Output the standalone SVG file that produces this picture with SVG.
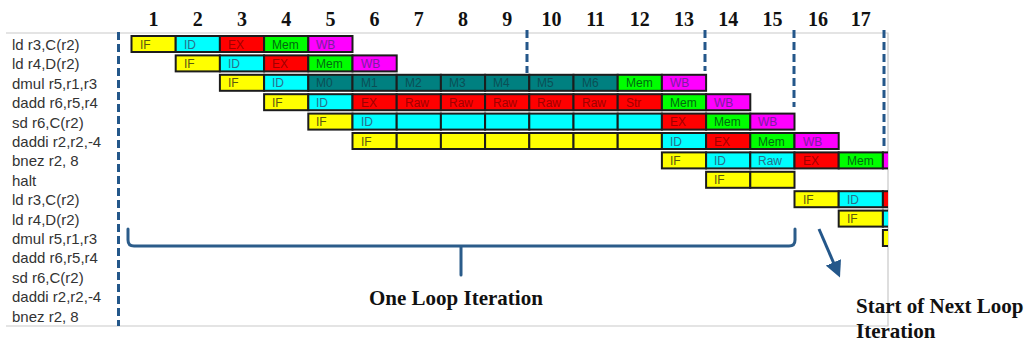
<svg xmlns="http://www.w3.org/2000/svg" width="1032" height="345" viewBox="0 0 1032 345">
  <style>
    .lbl { font-family: "Liberation Sans", Arial, sans-serif; font-size: 15px; fill: #333; }
    .num { font-family: "Liberation Serif", "Times New Roman", serif; font-size: 20px; font-weight: bold; fill: #111; text-anchor: middle; }
    .cap { font-family: "Liberation Serif", "Times New Roman", serif; font-size: 21px; font-weight: bold; fill: #111; }
    .bar { stroke: #1c1c1c; stroke-width: 2; }
    .bt { font-family: "Liberation Sans", Arial, sans-serif; font-size: 12px; }
    .IF { fill: #ffff00; } .tIF { fill: #5a5a10; }
    .ID { fill: #00ffff; } .tID { fill: #2a6f8a; }
    .EX { fill: #ff0000; } .tEX { fill: #a00000; }
    .ME { fill: #00ff00; } .tME { fill: #006a10; }
    .WB { fill: #ff00ff; } .tWB { fill: #7a1fa0; }
    .ML { fill: #008080; } .tML { fill: #0b4f55; }
    .dash { fill: none; stroke: #24578a; stroke-width: 3; stroke-dasharray: 8 4; }
    .frame { fill: none; stroke: #c9c9c9; stroke-width: 1.2; }
    .brace { fill: none; stroke: #2b5c8a; stroke-width: 3; stroke-linecap: round; stroke-linejoin: round; }
  </style>
  <defs>
    <clipPath id="grid-clip"><rect x="0" y="0" width="888" height="345"/></clipPath>
    <marker id="arrowhead" viewBox="0 0 10 10" refX="7" refY="5" markerWidth="5.5" markerHeight="5.5" orient="auto">
      <path d="M0,0 L10,5 L0,10 z" fill="#24578a"/>
    </marker>
  </defs>

  <rect width="1032" height="345" fill="#ffffff"/>

  <!-- frame of the timing table -->
  <path class="frame" d="M6,33 H888 V326 H6"/>

  <!-- clock cycle numbers -->
  <g id="cycles">
    <text class="num" x="153.6" y="26">1</text>
    <text class="num" x="197.8" y="26">2</text>
    <text class="num" x="242" y="26">3</text>
    <text class="num" x="286.2" y="26">4</text>
    <text class="num" x="330.4" y="26">5</text>
    <text class="num" x="374.6" y="26">6</text>
    <text class="num" x="418.8" y="26">7</text>
    <text class="num" x="463" y="26">8</text>
    <text class="num" x="507.2" y="26">9</text>
    <text class="num" x="551.4" y="26">10</text>
    <text class="num" x="595.6" y="26">11</text>
    <text class="num" x="639.8" y="26">12</text>
    <text class="num" x="684" y="26">13</text>
    <text class="num" x="728.2" y="26">14</text>
    <text class="num" x="772.4" y="26">15</text>
    <text class="num" x="818" y="26">16</text>
    <text class="num" x="860.8" y="26">17</text>
  </g>

  <!-- instruction labels -->
  <g id="instructions">
    <text class="lbl" x="12" y="50">ld r3,C(r2)</text>
    <text class="lbl" x="12" y="69.4">ld r4,D(r2)</text>
    <text class="lbl" x="12" y="88.8">dmul r5,r1,r3</text>
    <text class="lbl" x="12" y="108.2">dadd r6,r5,r4</text>
    <text class="lbl" x="12" y="127.6">sd r6,C(r2)</text>
    <text class="lbl" x="12" y="147">daddi r2,r2,-4</text>
    <text class="lbl" x="12" y="166.4">bnez r2, 8</text>
    <text class="lbl" x="12" y="185.8">halt</text>
    <text class="lbl" x="12" y="205.2">ld r3,C(r2)</text>
    <text class="lbl" x="12" y="224.6">ld r4,D(r2)</text>
    <text class="lbl" x="12" y="244">dmul r5,r1,r3</text>
    <text class="lbl" x="12" y="263.4">dadd r6,r5,r4</text>
    <text class="lbl" x="12" y="282.8">sd r6,C(r2)</text>
    <text class="lbl" x="12" y="302.2">daddi r2,r2,-4</text>
    <text class="lbl" x="12" y="321.6">bnez r2, 8</text>
  </g>

  <!-- pipeline stage bars -->
  <g id="pipeline" clip-path="url(#grid-clip)">
    <g id="row-ld-r3">
      <rect class="bar IF" x="131.5" y="36" width="44.2" height="16"/><text class="bt tIF" x="140" y="48.5">IF</text>
      <rect class="bar ID" x="175.7" y="36" width="44.2" height="16"/><text class="bt tID" x="184" y="48.5">ID</text>
      <rect class="bar EX" x="219.9" y="36" width="44.2" height="16"/><text class="bt tEX" x="228" y="48.5">EX</text>
      <rect class="bar ME" x="264.1" y="36" width="44.2" height="16"/><text class="bt tME" x="272" y="48.5">Mem</text>
      <rect class="bar WB" x="308.3" y="36" width="44.2" height="16"/><text class="bt tWB" x="316" y="48.5">WB</text>
    </g>
    <g id="row-ld-r4">
      <rect class="bar IF" x="175.7" y="55.4" width="44.2" height="16"/><text class="bt tIF" x="184" y="67.9">IF</text>
      <rect class="bar ID" x="219.9" y="55.4" width="44.2" height="16"/><text class="bt tID" x="228" y="67.9">ID</text>
      <rect class="bar EX" x="264.1" y="55.4" width="44.2" height="16"/><text class="bt tEX" x="272" y="67.9">EX</text>
      <rect class="bar ME" x="308.3" y="55.4" width="44.2" height="16"/><text class="bt tME" x="316" y="67.9">Mem</text>
      <rect class="bar WB" x="352.5" y="55.4" width="44.2" height="16"/><text class="bt tWB" x="361" y="67.9">WB</text>
    </g>
    <g id="row-dmul">
      <rect class="bar IF" x="219.9" y="74.8" width="44.2" height="16"/><text class="bt tIF" x="228" y="87.3">IF</text>
      <rect class="bar ID" x="264.1" y="74.8" width="44.2" height="16"/><text class="bt tID" x="272" y="87.3">ID</text>
      <rect class="bar ML" x="308.3" y="74.8" width="44.2" height="16"/><text class="bt tML" x="316" y="87.3">M0</text>
      <rect class="bar ML" x="352.5" y="74.8" width="44.2" height="16"/><text class="bt tML" x="361" y="87.3">M1</text>
      <rect class="bar ML" x="396.7" y="74.8" width="44.2" height="16"/><text class="bt tML" x="405" y="87.3">M2</text>
      <rect class="bar ML" x="440.9" y="74.8" width="44.2" height="16"/><text class="bt tML" x="449" y="87.3">M3</text>
      <rect class="bar ML" x="485.1" y="74.8" width="44.2" height="16"/><text class="bt tML" x="493" y="87.3">M4</text>
      <rect class="bar ML" x="529.3" y="74.8" width="44.2" height="16"/><text class="bt tML" x="537" y="87.3">M5</text>
      <rect class="bar ML" x="573.5" y="74.8" width="44.2" height="16"/><text class="bt tML" x="582" y="87.3">M6</text>
      <rect class="bar ME" x="617.7" y="74.8" width="44.2" height="16"/><text class="bt tME" x="626" y="87.3">Mem</text>
      <rect class="bar WB" x="661.9" y="74.8" width="44.2" height="16"/><text class="bt tWB" x="670" y="87.3">WB</text>
    </g>
    <g id="row-dadd">
      <rect class="bar IF" x="264.1" y="94.2" width="44.2" height="16"/><text class="bt tIF" x="272" y="106.7">IF</text>
      <rect class="bar ID" x="308.3" y="94.2" width="44.2" height="16"/><text class="bt tID" x="316" y="106.7">ID</text>
      <rect class="bar EX" x="352.5" y="94.2" width="44.2" height="16"/><text class="bt tEX" x="361" y="106.7">EX</text>
      <rect class="bar EX" x="396.7" y="94.2" width="44.2" height="16"/><text class="bt tEX" x="405" y="106.7">Raw</text>
      <rect class="bar EX" x="440.9" y="94.2" width="44.2" height="16"/><text class="bt tEX" x="449" y="106.7">Raw</text>
      <rect class="bar EX" x="485.1" y="94.2" width="44.2" height="16"/><text class="bt tEX" x="493" y="106.7">Raw</text>
      <rect class="bar EX" x="529.3" y="94.2" width="44.2" height="16"/><text class="bt tEX" x="537" y="106.7">Raw</text>
      <rect class="bar EX" x="573.5" y="94.2" width="44.2" height="16"/><text class="bt tEX" x="582" y="106.7">Raw</text>
      <rect class="bar EX" x="617.7" y="94.2" width="44.2" height="16"/><text class="bt tEX" x="626" y="106.7">Str</text>
      <rect class="bar ME" x="661.9" y="94.2" width="44.2" height="16"/><text class="bt tME" x="670" y="106.7">Mem</text>
      <rect class="bar WB" x="706.1" y="94.2" width="44.2" height="16"/><text class="bt tWB" x="714" y="106.7">WB</text>
    </g>
    <g id="row-sd">
      <rect class="bar IF" x="308.3" y="113.6" width="44.2" height="16"/><text class="bt tIF" x="316" y="126.1">IF</text>
      <rect class="bar ID" x="352.5" y="113.6" width="44.2" height="16"/><text class="bt tID" x="361" y="126.1">ID</text>
      <rect class="bar ID" x="396.7" y="113.6" width="44.2" height="16"/>
      <rect class="bar ID" x="440.9" y="113.6" width="44.2" height="16"/>
      <rect class="bar ID" x="485.1" y="113.6" width="44.2" height="16"/>
      <rect class="bar ID" x="529.3" y="113.6" width="44.2" height="16"/>
      <rect class="bar ID" x="573.5" y="113.6" width="44.2" height="16"/>
      <rect class="bar ID" x="617.7" y="113.6" width="44.2" height="16"/>
      <rect class="bar EX" x="661.9" y="113.6" width="44.2" height="16"/><text class="bt tEX" x="670" y="126.1">EX</text>
      <rect class="bar ME" x="706.1" y="113.6" width="44.2" height="16"/><text class="bt tME" x="714" y="126.1">Mem</text>
      <rect class="bar WB" x="750.3" y="113.6" width="44.2" height="16"/><text class="bt tWB" x="758" y="126.1">WB</text>
    </g>
    <g id="row-daddi">
      <rect class="bar IF" x="352.5" y="133" width="44.2" height="16"/><text class="bt tIF" x="361" y="145.5">IF</text>
      <rect class="bar IF" x="396.7" y="133" width="44.2" height="16"/>
      <rect class="bar IF" x="440.9" y="133" width="44.2" height="16"/>
      <rect class="bar IF" x="485.1" y="133" width="44.2" height="16"/>
      <rect class="bar IF" x="529.3" y="133" width="44.2" height="16"/>
      <rect class="bar IF" x="573.5" y="133" width="44.2" height="16"/>
      <rect class="bar IF" x="617.7" y="133" width="44.2" height="16"/>
      <rect class="bar ID" x="661.9" y="133" width="44.2" height="16"/><text class="bt tID" x="670" y="145.5">ID</text>
      <rect class="bar EX" x="706.1" y="133" width="44.2" height="16"/><text class="bt tEX" x="714" y="145.5">EX</text>
      <rect class="bar ME" x="750.3" y="133" width="44.2" height="16"/><text class="bt tME" x="758" y="145.5">Mem</text>
      <rect class="bar WB" x="794.5" y="133" width="44.2" height="16"/><text class="bt tWB" x="803" y="145.5">WB</text>
    </g>
    <g id="row-bnez">
      <rect class="bar IF" x="661.9" y="152.4" width="44.2" height="16"/><text class="bt tIF" x="670" y="164.9">IF</text>
      <rect class="bar ID" x="706.1" y="152.4" width="44.2" height="16"/><text class="bt tID" x="714" y="164.9">ID</text>
      <rect class="bar ID" x="750.3" y="152.4" width="44.2" height="16"/><text class="bt tID" x="758" y="164.9">Raw</text>
      <rect class="bar EX" x="794.5" y="152.4" width="44.2" height="16"/><text class="bt tEX" x="803" y="164.9">EX</text>
      <rect class="bar ME" x="838.7" y="152.4" width="44.2" height="16"/><text class="bt tME" x="847" y="164.9">Mem</text>
      <rect class="bar WB" x="882.9" y="152.4" width="44.2" height="16"/>
    </g>
    <g id="row-halt">
      <rect class="bar IF" x="706.1" y="171.8" width="44.2" height="16"/><text class="bt tIF" x="714" y="184.3">IF</text>
      <rect class="bar IF" x="750.3" y="171.8" width="44.2" height="16"/>
    </g>
    <g id="row-ld-r3-next">
      <rect class="bar IF" x="794.5" y="191.2" width="44.2" height="16"/><text class="bt tIF" x="803" y="203.7">IF</text>
      <rect class="bar ID" x="838.7" y="191.2" width="44.2" height="16"/><text class="bt tID" x="847" y="203.7">ID</text>
      <rect class="bar EX" x="882.9" y="191.2" width="44.2" height="16"/>
    </g>
    <g id="row-ld-r4-next">
      <rect class="bar IF" x="838.7" y="210.6" width="44.2" height="16"/><text class="bt tIF" x="847" y="223.1">IF</text>
      <rect class="bar ID" x="882.9" y="210.6" width="44.2" height="16"/>
    </g>
    <g id="row-dmul-next">
      <rect class="bar IF" x="882.9" y="230" width="44.2" height="16"/>
    </g>
  </g>

  <!-- connectors: iteration boundaries, brace and arrow -->
  <g id="connectors">
    <line class="dash" x1="118.5" y1="32" x2="118.5" y2="326"/>
    <line class="dash" x1="527" y1="30" x2="527" y2="73"/>
    <line class="dash" x1="705" y1="30" x2="705" y2="71"/>
    <line class="dash" x1="794" y1="30" x2="794" y2="107"/>
    <line class="dash" x1="884" y1="30" x2="884" y2="148"/>
    <path class="brace" d="M128,229 V240 Q128,246 134,246 H789 Q795,246 795,240 V229 M461,246 V275"/>
    <line x1="819" y1="229" x2="838" y2="273" stroke="#24578a" stroke-width="3" marker-end="url(#arrowhead)"/>
  </g>

  <!-- captions -->
  <text class="cap" x="369" y="305">One Loop Iteration</text>
  <text class="cap" x="856" y="313">Start of Next Loop</text>
  <text class="cap" x="856" y="338">Iteration</text>
</svg>
